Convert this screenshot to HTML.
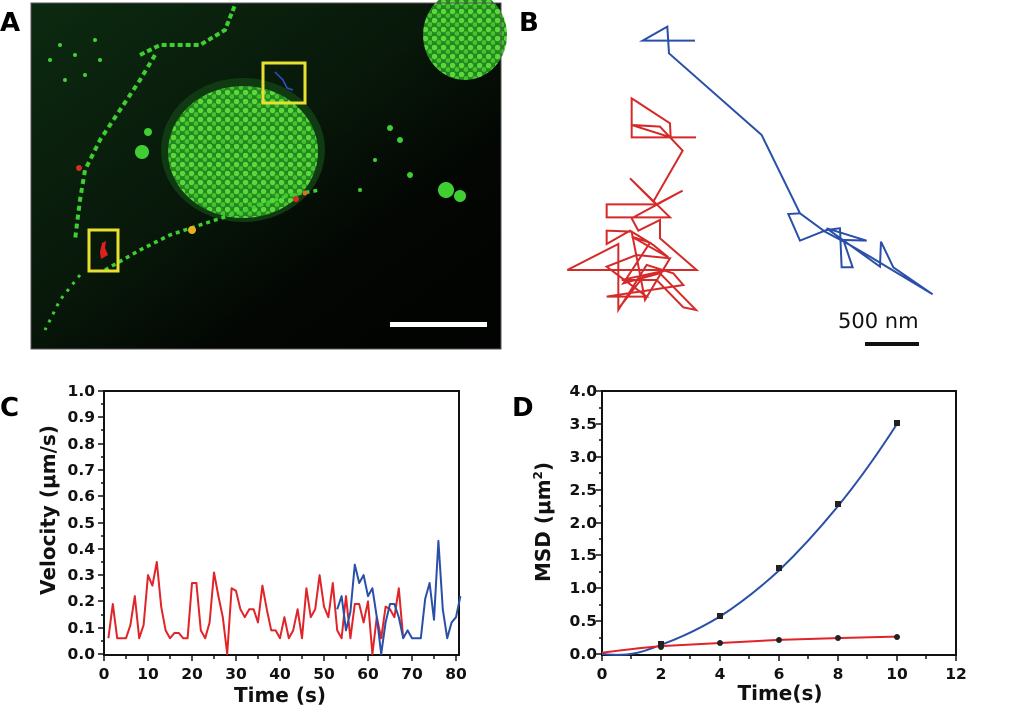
<!DOCTYPE html>
<html><head><meta charset="utf-8"><style>
html,body{margin:0;padding:0;background:#fff;}
svg{display:block}
.lab{font-family:"DejaVu Sans","Liberation Sans",sans-serif;font-weight:bold;}
.tk{font-family:"DejaVu Sans","Liberation Sans",sans-serif;font-weight:bold;font-size:15.5px;fill:#111;}
.ti{font-family:"DejaVu Sans","Liberation Sans",sans-serif;font-weight:bold;font-size:20px;fill:#111;}
</style></head><body>
<svg width="1031" height="718" viewBox="0 0 1031 718" xmlns="http://www.w3.org/2000/svg">
<defs>
<pattern id="dots" width="9" height="9" patternUnits="userSpaceOnUse">
<rect width="9" height="9" fill="#23881e"/>
<circle cx="2.5" cy="2.5" r="2.8" fill="#5ad83c"/>
<circle cx="7" cy="6.5" r="2.4" fill="#44c430"/>
</pattern>
<linearGradient id="bgA" x1="0" y1="0" x2="1" y2="1">
<stop offset="0" stop-color="#0c2a10"/><stop offset="0.45" stop-color="#08180a"/><stop offset="0.7" stop-color="#030603"/><stop offset="1" stop-color="#020302"/>
</linearGradient>
</defs>

<!-- Panel A -->
<text class="lab" x="0" y="31" font-size="26">A</text>
<rect x="31" y="3" width="470" height="346" fill="url(#bgA)"/>
<ellipse cx="243" cy="150" rx="82" ry="72" fill="#0f3a12"/>
<ellipse cx="243" cy="152" rx="75" ry="66" fill="url(#dots)"/>
<ellipse cx="465" cy="35" rx="42" ry="45" fill="url(#dots)"/>
<rect x="31" y="3" width="470" height="346" fill="none" stroke="#555" stroke-width="1"/>
<g fill="#3fcf32">
<circle cx="50" cy="60" r="2"/><circle cx="60" cy="45" r="2"/><circle cx="75" cy="55" r="2"/><circle cx="95" cy="40" r="2"/><circle cx="85" cy="75" r="2"/><circle cx="100" cy="60" r="2"/><circle cx="65" cy="80" r="2"/>
<circle cx="446" cy="190" r="8"/><circle cx="460" cy="196" r="6"/><circle cx="142" cy="152" r="7"/><circle cx="148" cy="132" r="4"/>
<circle cx="390" cy="128" r="3"/><circle cx="400" cy="140" r="3"/><circle cx="375" cy="160" r="2"/><circle cx="410" cy="175" r="3"/><circle cx="360" cy="190" r="2"/>
</g>
<path d="M140,55 L160,45 L200,45 L225,30 L235,5" stroke="#3fcf32" stroke-width="4" stroke-dasharray="5 3" fill="none"/>
<path d="M155,55 L140,80 L120,110 L100,140 L85,170 L80,200 L75,240" stroke="#3fcf32" stroke-width="4" stroke-dasharray="5 4" fill="none"/>
<path d="M105,270 L140,250 L170,235 L200,225 L240,212 L290,195 L320,190" stroke="#3fcf32" stroke-width="3.5" stroke-dasharray="4 4" fill="none"/>
<path d="M80,275 L60,300 L45,330" stroke="#3fcf32" stroke-width="3" stroke-dasharray="3 6" fill="none"/>
<circle cx="192" cy="230" r="4" fill="#e8b020"/><circle cx="296" cy="199" r="3" fill="#d03020"/><circle cx="79" cy="168" r="3" fill="#d03020"/><circle cx="305" cy="193" r="2.5" fill="#e07020"/>
<rect x="263" y="63" width="42" height="40" fill="none" stroke="#e8e030" stroke-width="3"/>
<path d="M275,72 L283,80 L287,88 L293,90" stroke="#3050d0" stroke-width="1.5" fill="none"/>
<rect x="89" y="230" width="29" height="41" fill="none" stroke="#e8e030" stroke-width="3"/>
<path d="M102,243 L106,241 L105,248 L108,255 L101,259 L100,252 Z" fill="#e02020"/>
<rect x="390" y="322" width="97" height="5" fill="#fff"/>

<!-- Panel B -->
<text class="lab" x="519" y="31" font-size="26">B</text>
<g transform="translate(560,20) scale(0.3333)" fill="none" stroke-width="6" stroke-linejoin="miter">
<path stroke="#d42a2a" d="M408,352 L215,352 L215,235 L330,310 L332,352 L215,315 L300,320 L368,392 L280,545 L210,475 L330,592 L140,592 L140,553 L290,553 L368,512 L215,595 L235,632 L300,600 L300,655 L410,750 L22,750 L175,672 L175,870 L260,735 L340,760 L370,795 L140,830 L260,830 L140,740 L230,705 L330,715 L255,840 L215,635 L140,632 L140,672 L210,632 L280,675 L325,712 L215,650 L270,668 L190,790 L300,760 L408,870 L370,862 L290,780 L185,780 L315,752 L250,770 L180,860"/>
<path stroke="#2a4fa8" d="M405,62 L248,62 L322,20 L327,100 L605,345 L720,580 L685,582 L720,662 L800,630 L840,625 L845,742 L878,742 L850,660 L920,662 L800,625 L960,740 L963,665 L1000,742 L1118,823 L930,710 L870,675 L795,635 L720,580"/>
</g>
<text x="838" y="328" font-family="DejaVu Sans, Liberation Sans, sans-serif" font-size="21" fill="#111">500 nm</text>
<rect x="865" y="342" width="54" height="4" fill="#111"/>

<!-- Panel C -->
<text class="lab" x="0" y="416" font-size="26">C</text>
<path d="M104,391 L104,655 L459,655 L459,391 Z" stroke="#111" stroke-width="2" fill="none"/>
<g stroke="#111" stroke-width="1.5">
<path d="M98,391H104M98,417H104M98,444H104M98,470H104M98,496H104M98,523H104M98,549H104M98,575H104M98,601H104M98,628H104M98,654H104"/>
<path d="M101,404H104M101,430H104M101,457H104M101,483H104M101,509H104M101,536H104M101,562H104M101,588H104M101,615H104M101,641H104"/>
<path d="M104,655V661M148,655V661M192,655V661M236,655V661M280,655V661M324,655V661M368,655V661M412,655V661M456,655V661"/>
<path d="M126,655V659M170,655V659M214,655V659M258,655V659M302,655V659M346,655V659M390,655V659M434,655V659"/>
</g>
<g class="tk" text-anchor="end">
<text x="95" y="396">1.0</text><text x="95" y="422">0.9</text><text x="95" y="449">0.8</text><text x="95" y="475">0.7</text><text x="95" y="501">0.6</text><text x="95" y="528">0.5</text><text x="95" y="554">0.4</text><text x="95" y="580">0.3</text><text x="95" y="606">0.2</text><text x="95" y="633">0.1</text><text x="95" y="659">0.0</text>
</g>
<g class="tk" text-anchor="middle">
<text x="104" y="679">0</text><text x="148" y="679">10</text><text x="192" y="679">20</text><text x="236" y="679">30</text><text x="280" y="679">40</text><text x="324" y="679">50</text><text x="368" y="679">60</text><text x="412" y="679">70</text><text x="456" y="679">80</text>
</g>
<text class="ti" x="280" y="702" text-anchor="middle">Time (s)</text>
<text class="ti" transform="translate(55,510) rotate(-90)" text-anchor="middle">Velocity (μm/s)</text>
<g transform="translate(104,654) scale(4.4,-263)" fill="none" stroke-width="2" stroke-linejoin="round">
<polyline vector-effect="non-scaling-stroke" stroke="#e02428" points="1,.06 2,.19 3,.06 4,.06 5,.06 6,.11 7,.22 8,.06 9,.11 10,.30 11,.26 12,.35 13,.18 14,.09 15,.06 16,.08 17,.08 18,.06 19,.06 20,.27 21,.27 22,.09 23,.06 24,.12 25,.31 26,.22 27,.14 28,0 29,.25 30,.24 31,.17 32,.14 33,.17 34,.17 35,.12 36,.26 37,.17 38,.09 39,.09 40,.06 41,.14 42,.06 43,.09 44,.17 45,.06 46,.25 47,.14 48,.17 49,.30 50,.18 51,.14 52,.27 53,.09 54,.06 55,.22 56,.06 57,.19 58,.19 59,.12 60,.20 61,0 62,.14 63,.06 64,.18 65,.17 66,.14 67,.25 68,.06"/>
<polyline vector-effect="non-scaling-stroke" stroke="#2a4fa8" points="53,.17 54,.22 55,.09 56,.16 57,.34 58,.27 59,.30 60,.22 61,.25 62,.14 63,0 64,.12 65,.19 66,.19 67,.14 68,.06 69,.09 70,.06 71,.06 72,.06 73,.21 74,.27 75,.13 76,.43 77,.17 78,.06 79,.12 80,.14 81,.22"/>
</g>

<!-- Panel D -->
<text class="lab" x="512" y="416" font-size="26">D</text>
<path d="M602,391 L602,655 L956,655 L956,391 Z" stroke="#111" stroke-width="2" fill="none"/>
<g stroke="#111" stroke-width="1.5">
<path d="M596,391H602M596,424H602M596,457H602M596,490H602M596,523H602M596,555H602M596,588H602M596,621H602M596,654H602"/>
<path d="M599,408H602M599,440H602M599,473H602M599,506H602M599,539H602M599,572H602M599,605H602M599,638H602"/>
<path d="M602,655V661M661,655V661M720,655V661M779,655V661M838,655V661M897,655V661M956,655V661"/>
<path d="M631,655V659M690,655V659M749,655V659M808,655V659M867,655V659M926,655V659"/>
</g>
<g class="tk" text-anchor="end">
<text x="597" y="396">4.0</text><text x="597" y="429">3.5</text><text x="597" y="462">3.0</text><text x="597" y="495">2.5</text><text x="597" y="528">2.0</text><text x="597" y="560">1.5</text><text x="597" y="593">1.0</text><text x="597" y="626">0.5</text><text x="597" y="659">0.0</text>
</g>
<g class="tk" text-anchor="middle">
<text x="602" y="679">0</text><text x="661" y="679">2</text><text x="720" y="679">4</text><text x="779" y="679">6</text><text x="838" y="679">8</text><text x="897" y="679">10</text><text x="956" y="679">12</text>
</g>
<text class="ti" x="780" y="700" text-anchor="middle">Time(s)</text>
<text class="ti" transform="translate(550,522) rotate(-90)" text-anchor="middle">MSD (μm<tspan font-size="12" dy="-8">2</tspan><tspan dy="8">)</tspan></text>
<g transform="translate(602,654) scale(29.5,-65.75)" fill="none" stroke-width="2">
<path vector-effect="non-scaling-stroke" stroke="#2a4fa8" d="M0,0 C1,-0.05 1.5,0.05 2,0.14 Q3,0.3 4,0.57 Q5,0.86 6,1.27 Q7,1.7 8,2.25 Q9,2.8 10,3.5"/>
<path vector-effect="non-scaling-stroke" stroke="#e02428" d="M0,0.02 Q1,0.08 2,0.12 Q4,0.17 6,0.215 Q8,0.245 10,0.265"/>
</g>
<g fill="#222">
<rect x="658" y="641" width="6" height="6"/><rect x="717" y="613" width="6" height="6"/><rect x="776" y="565" width="6" height="6"/><rect x="835" y="501" width="6" height="6"/><rect x="894" y="420" width="6" height="6"/>
<circle cx="661" cy="647" r="3"/><circle cx="720" cy="643" r="3"/><circle cx="779" cy="640" r="3"/><circle cx="838" cy="638" r="3"/><circle cx="897" cy="637" r="3"/>
</g>
</svg>
</body></html>
